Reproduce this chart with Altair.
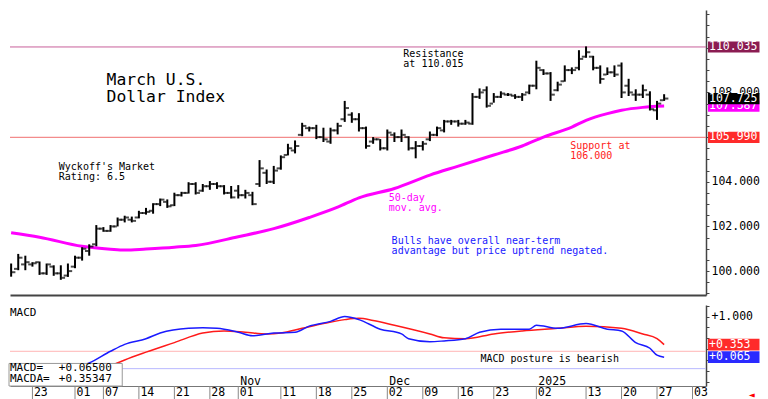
import altair as alt
import pandas as pd

# ---------------- data ----------------
HOLIDAYS = ["2024-12-25", "2025-01-01"]
trading_days = [d.strftime("%Y-%m-%d") for d in pd.bdate_range("2024-09-18", "2025-02-07")
                if d.strftime("%Y-%m-%d") not in HOLIDAYS]
ANCHOR = trading_days.index("2024-09-23")
day_index = {d: k - ANCHOR for k, d in enumerate(trading_days)}

bar_dates = trading_days[: trading_days.index("2025-01-28") + 1]
highs = [100.34, 100.77, 100.69, 100.40, 100.43, 100.34, 100.26, 100.26, 100.34, 100.69,
         101.07, 101.20, 102.06, 101.97, 102.06, 102.40, 102.48, 102.44, 102.70, 102.83,
         103.04, 103.25, 103.21, 103.51, 103.55, 103.98, 103.98, 103.90, 104.03, 103.98,
         103.85, 103.81, 103.85, 103.64, 103.55, 104.97, 104.55, 104.71, 105.18, 105.70,
         105.85, 106.64, 106.47, 106.55, 106.42, 106.42, 106.64, 107.62, 107.11, 107.07,
         106.47, 106.00, 105.91, 106.34, 106.21, 106.34, 106.04, 105.82, 105.82, 106.25,
         106.47, 106.77, 106.77, 106.77, 106.77, 107.97, 108.18, 108.27, 107.97, 108.05,
         107.97, 107.92, 107.97, 108.35, 109.42, 109.04, 108.91, 108.48, 109.21, 109.12,
         109.89, 110.06, 109.64, 109.21, 109.12, 109.21, 109.34, 108.61, 108.14, 108.35,
         108.05, 107.62, 107.92]
lows = [99.75, 100.04, 100.04, 100.20, 99.83, 99.83, 99.79, 99.61, 99.74, 100.13,
        100.47, 100.69, 101.11, 101.76, 101.76, 102.00, 102.18, 102.18, 102.36, 102.53,
        102.57, 102.91, 102.83, 102.91, 103.34, 103.47, 103.43, 103.55, 103.64, 103.68,
        103.43, 103.25, 103.25, 103.25, 102.95, 103.77, 103.90, 103.90, 104.54, 105.18,
        105.27, 106.04, 106.25, 105.91, 105.78, 105.70, 106.12, 106.68, 106.64, 106.25,
        105.48, 105.70, 105.40, 105.40, 105.78, 105.78, 105.40, 105.05, 105.40, 105.82,
        106.04, 106.21, 106.55, 106.47, 106.55, 106.55, 107.71, 107.32, 107.54, 107.75,
        107.84, 107.71, 107.62, 107.92, 108.14, 108.78, 107.62, 108.05, 108.48, 108.82,
        108.99, 109.55, 108.99, 108.39, 108.78, 108.69, 107.75, 107.84, 107.62, 107.75,
        107.19, 106.77, 107.62]
opens = [100.10, 100.10, 100.30, 100.30, 100.40, 99.90, 100.20, 99.90, 99.80, 100.20,
         100.60, 100.90, 101.20, 101.90, 101.80, 102.00, 102.30, 102.30, 102.40, 102.60,
         102.70, 103.00, 103.10, 102.95, 103.40, 103.50, 103.90, 103.60, 103.80, 103.90,
         103.80, 103.50, 103.60, 103.40, 103.40, 103.90, 104.40, 104.00, 104.60, 105.20,
         105.40, 106.10, 106.40, 106.40, 106.00, 105.80, 106.30, 106.80, 107.00, 106.80,
         106.40, 105.80, 105.90, 105.50, 106.10, 106.00, 106.00, 105.50, 105.60, 105.90,
         106.10, 106.30, 106.70, 106.70, 106.60, 106.60, 107.80, 108.10, 107.50, 107.80,
         107.90, 107.85, 107.80, 108.00, 108.30, 109.00, 108.85, 108.10, 108.50, 109.00,
         109.10, 109.60, 109.60, 109.10, 108.80, 108.90, 109.20, 108.30, 107.90, 107.90,
         107.90, 107.20, 107.65]
closes = [99.95, 100.60, 100.40, 100.35, 99.90, 100.30, 99.90, 99.70, 100.00, 100.60,
          101.00, 101.10, 101.90, 101.80, 102.00, 102.30, 102.40, 102.25, 102.60, 102.65,
          103.00, 103.20, 102.90, 103.40, 103.50, 103.90, 103.50, 103.80, 103.90, 103.80,
          103.50, 103.30, 103.40, 103.50, 103.00, 104.60, 104.00, 104.50, 105.10, 105.50,
          105.60, 106.50, 106.40, 106.00, 105.90, 106.30, 106.50, 107.30, 106.80, 106.40,
          105.60, 105.90, 105.50, 106.20, 106.00, 106.10, 105.50, 105.60, 105.70, 106.10,
          106.40, 106.70, 106.70, 106.60, 106.65, 107.80, 108.00, 107.40, 107.80, 107.95,
          107.90, 107.80, 107.90, 108.30, 109.10, 108.85, 107.90, 108.35, 109.00, 109.00,
          109.50, 109.80, 109.10, 108.60, 108.90, 108.80, 108.00, 108.00, 107.90, 108.10,
          107.25, 107.50, 107.725]

ma_dates = ["2024-09-18", "2024-09-24", "2024-10-02", "2024-10-08", "2024-10-10", "2024-10-15",
            "2024-10-21", "2024-10-24", "2024-11-01", "2024-11-08", "2024-11-15", "2024-11-21",
            "2024-11-26", "2024-12-03", "2024-12-10", "2024-12-16", "2024-12-23", "2024-12-30",
            "2025-01-03", "2025-01-09", "2025-01-13", "2025-01-16", "2025-01-20", "2025-01-23",
            "2025-01-28"]
ma_values = [101.72, 101.52, 101.11, 100.98, 100.94, 100.99, 101.07, 101.15, 101.54, 101.90,
             102.40, 102.86, 103.28, 103.70, 104.30, 104.70, 105.20, 105.60, 106.00, 106.45,
             106.75, 107.05, 107.20, 107.33, 107.387]

macd_dates = ["2024-09-18", "2024-09-26", "2024-10-01", "2024-10-03", "2024-10-08", "2024-10-10",
              "2024-10-15", "2024-10-17", "2024-10-23", "2024-10-25", "2024-10-29", "2024-11-01",
              "2024-11-05", "2024-11-08", "2024-11-13", "2024-11-15", "2024-11-20", "2024-11-22",
              "2024-11-26", "2024-11-29", "2024-12-04", "2024-12-05", "2024-12-10", "2024-12-12",
              "2024-12-17", "2024-12-19", "2024-12-24", "2024-12-31", "2025-01-02", "2025-01-07",
              "2025-01-13", "2025-01-16", "2025-01-20", "2025-01-22", "2025-01-24", "2025-01-27",
              "2025-01-28"]
macd_values = [-0.40, -0.30, -0.18, -0.07, 0.20, 0.36, 0.49, 0.62, 0.73, 0.74, 0.73, 0.64,
               0.56, 0.62, 0.64, 0.78, 0.89, 1.00, 0.93, 0.71, 0.60, 0.49, 0.42, 0.44,
               0.49, 0.64, 0.71, 0.71, 0.80, 0.73, 0.84, 0.71, 0.67, 0.40, 0.27, 0.11, 0.065]

macda_dates = ["2024-09-18", "2024-09-30", "2024-10-07", "2024-10-08", "2024-10-10", "2024-10-15",
               "2024-10-21", "2024-10-25", "2024-10-30", "2024-11-04", "2024-11-07", "2024-11-11",
               "2024-11-14", "2024-11-19", "2024-11-22", "2024-11-26", "2024-11-28", "2024-12-03",
               "2024-12-10", "2024-12-12", "2024-12-17", "2024-12-23", "2024-12-30", "2025-01-07",
               "2025-01-13", "2025-01-20", "2025-01-23", "2025-01-27", "2025-01-28"]
macda_values = [-0.55, -0.40, -0.22, -0.14, 0.00, 0.18, 0.40, 0.62, 0.67, 0.64, 0.60, 0.62,
                0.73, 0.84, 0.93, 0.96, 0.91, 0.80, 0.60, 0.51, 0.49, 0.60, 0.67, 0.73,
                0.78, 0.73, 0.60, 0.49, 0.353]

resistance_level = 110.035
support_level = 105.990
last_close = 107.725
last_ma = 107.387
macd_last = 0.065
macda_last = 0.353
macd_bands = [0.2, -0.2]

tick_dates = ["2024-09-23", "2024-10-01", "2024-10-07", "2024-10-14", "2024-10-21", "2024-10-28",
              "2024-11-01", "2024-11-11", "2024-11-18", "2024-11-25", "2024-12-02", "2024-12-09",
              "2024-12-16", "2024-12-23", "2025-01-02", "2025-01-13", "2025-01-20", "2025-01-27",
              "2025-02-03"]
tick_labels = [d[-2:] for d in tick_dates]
month_dates = ["2024-11-01", "2024-12-02", "2025-01-02"]
month_labels = ["Nov", "Dec", "2025"]

# ---------------- layout ----------------
SX, SY = 0.976, 0.958
W, H1, H2 = 696, 285, 81
MONO = "DejaVu Sans Mono"
xscale = alt.Scale(domain=[-3.16, 94.9], nice=False, zero=False)
pscale = alt.Scale(domain=[98.93, 111.69], nice=False, zero=False)
mscale = alt.Scale(domain=[-0.6, 1.267], nice=False, zero=False)

p_xaxis = alt.Axis(orient="bottom", labels=False, ticks=False, domain=True, domainColor="#444444",
                   domainWidth=2, grid=False, title=None)
m_xaxis = alt.Axis(orient="bottom", labels=False, ticks=False, domain=True, domainColor="#777777",
                   domainWidth=1, grid=False, title=None)
p_yaxis = alt.Axis(orient="right", values=[99 + 0.5 * k for k in range(26)],
                   labelExpr="(datum.value % 2 == 0 && datum.value != 106 && datum.value != 110) ? format(datum.value, '.3f') : ''",
                   tickSize=3, tickColor="#444444", domainColor="#444444", domainWidth=1.5,
                   labelFont=MONO, labelFontSize=11.5, labelColor="black", labelPadding=2,
                   labelOverlap=False, grid=False, title=None)
m_yaxis = alt.Axis(orient="right", values=[-0.5, -0.25, 0, 0.25, 0.5, 0.75, 1.0, 1.25],
                   labelExpr="datum.value == 1 ? '+1.000' : ''",
                   tickSize=3, tickColor="#444444", domainColor="#444444", domainWidth=1.5,
                   labelFont=MONO, labelFontSize=11.5, labelColor="black", labelPadding=2,
                   labelOverlap=False, grid=False, title=None)

X = lambda f: alt.X(f, type="quantitative", scale=xscale, axis=p_xaxis)
XM = lambda f: alt.X(f, type="quantitative", scale=xscale, axis=m_xaxis)
YP = lambda f: alt.Y(f, type="quantitative", scale=pscale, axis=p_yaxis)
YM = lambda f: alt.Y(f, type="quantitative", scale=mscale, axis=m_yaxis)

bars = pd.DataFrame({"i": [day_index[d] for d in bar_dates], "high": highs, "low": lows,
                     "open": opens, "close": closes})
ma = pd.DataFrame({"i": [day_index[d] for d in ma_dates], "v": ma_values})
levels = pd.DataFrame({"v": [resistance_level, support_level], "c": ["#c8609a", "#f07070"]})


def note(text, rx, ry, size, color, top=0):
    return alt.Chart(pd.DataFrame({"t": [text]})).mark_text(
        align="left", baseline="middle", font=MONO, fontSize=size, color=color
    ).encode(x=alt.value(rx * SX), y=alt.value((ry - top) * SY), text="t:N")


def value_box(val, bg, half, yenc, fmt):
    df = pd.DataFrame({"lo": [val - half], "hi": [val + half], "v": [val], "t": [fmt(val)]})
    rect = alt.Chart(df).mark_rect(color=bg).encode(
        x=alt.value(W + 2), x2=alt.value(W + 53.5), y=yenc("lo"), y2=alt.Y2("hi"))
    txt = alt.Chart(df).mark_text(align="left", baseline="middle", font=MONO, fontSize=11.5,
                                  color="white").encode(x=alt.value(W + 3), y=yenc("v"), text="t:N")
    return [rect, txt]


price_layers = [
    alt.Chart(levels).mark_rule(strokeWidth=1).encode(y=YP("v"), color=alt.Color("c:N", scale=None)),
    alt.Chart(ma).mark_line(color="#ff00ff", strokeWidth=3, interpolate="monotone", clip=True)
    .encode(x=X("i"), y=YP("v")),
    alt.Chart(bars).mark_rule(color="black", strokeWidth=2, clip=True)
    .encode(x=X("i"), y=YP("low"), y2=alt.Y2("high")),
    alt.Chart(bars).mark_tick(orient="horizontal", color="black", size=3.5, thickness=2,
                              xOffset=-2.5, clip=True).encode(x=X("i"), y=YP("open")),
    alt.Chart(bars).mark_tick(orient="horizontal", color="black", size=3.5, thickness=2,
                              xOffset=2.5, clip=True).encode(x=X("i"), y=YP("close")),
    note("March U.S.", 99, 73.5, 16.4, "black"),
    note("Dollar Index", 99, 91, 16.4, "black"),
    note("Wyckoff's Market", 50, 163.5, 10, "black"),
    note("Rating: 6.5", 50, 174.5, 10, "black"),
    note("Resistance", 403, 46, 10, "black"),
    note("at 110.015", 403, 56, 10, "black"),
    note("Support at", 574, 142, 10, "#ff2020"),
    note("106.000", 574, 152.5, 10, "#ff2020"),
    note("50-day", 388, 196, 10, "#ff00ff"),
    note("mov. avg.", 388, 207, 10, "#ff00ff"),
    note("Bulls have overall near-term", 391, 241.5, 10, "#2020ff"),
    note("advantage but price uptrend negated.", 391, 252, 10, "#2020ff"),
]
fmt3 = lambda v: f"{v:.3f}"
price_layers += value_box(resistance_level, "#8b1c52", 0.25, YP, fmt3)
price_layers += value_box(support_level, "#ff2a2a", 0.25, YP, fmt3)
price_layers += value_box(last_ma, "#ff00ff", 0.25, YP, fmt3)
price_layers += value_box(last_close, "#000000", 0.25, YP, fmt3)

price = alt.layer(*price_layers).properties(width=W, height=H1)

macd_df = pd.DataFrame({"i": [day_index[d] for d in macd_dates], "v": macd_values})
macda_df = pd.DataFrame({"i": [day_index[d] for d in macda_dates], "v": macda_values})
bands = pd.DataFrame({"v": macd_bands, "c": ["#ffb4b4", "#b8b8ff"]})
ticks = pd.DataFrame({"i": [day_index[d] for d in tick_dates], "t": tick_labels})
months = pd.DataFrame({"i": [day_index[d] for d in month_dates], "t": month_labels})

fmts = lambda v: f"+{v:.3f}"
macd_layers = [
    alt.Chart(bands).mark_rule(strokeWidth=1).encode(y=YM("v"), color=alt.Color("c:N", scale=None)),
    alt.Chart(macda_df).mark_line(color="#ff1a1a", strokeWidth=1.5, interpolate="monotone", clip=True)
    .encode(x=XM("i"), y=YM("v")),
    alt.Chart(macd_df).mark_line(color="#1a1aff", strokeWidth=1.5, interpolate="monotone", clip=True)
    .encode(x=XM("i"), y=YM("v")),
    alt.Chart(pd.DataFrame({"a": [0]})).mark_rect(fill="white", stroke="#999999", strokeWidth=1)
    .encode(x=alt.value(-1), x2=alt.value(115 * SX), y=alt.value((359 - 298) * SY), y2=alt.value(H2)),
    note("MACD", 0, 306.5, 11, "black", 298),
    note("MACD=", 0, 364, 11, "black", 298),
    note("+0.06500", 50, 364, 11, "black", 298),
    note("MACDA=", 0, 375.5, 11, "black", 298),
    note("+0.35347", 50, 375.5, 11, "black", 298),
    note("MACD posture is bearish", 482, 354, 10, "black", 298),
    alt.Chart(months).mark_text(align="left", baseline="middle", font=MONO, fontSize=11.5,
                                color="black", dx=2)
    .encode(x=XM("i"), y=alt.value((378 - 298) * SY), text="t:N"),
    alt.Chart(ticks).mark_rule(color="#888888", strokeWidth=1)
    .encode(x=XM("i"), y=alt.value(H2), y2=alt.value(H2 + 14.4)),
    alt.Chart(ticks).mark_text(align="left", baseline="middle", font=MONO, fontSize=11.5,
                               color="black", dx=1.5)
    .encode(x=XM("i"), y=alt.value(H2 + 7.2), text="t:N"),
    note("◄", 757, 392, 10, "#ff0000", 298),
]
macd_layers += value_box(macda_last, "#ff2a2a", 0.135, YM, fmts)
macd_layers += value_box(macd_last, "#2a2aff", 0.135, YM, fmts)

macd = alt.layer(*macd_layers).properties(width=W, height=H2)

chart = (
    alt.vconcat(price, macd, spacing=0)
    .resolve_scale(x="independent", y="independent")
    .properties(padding=0, background="white")
    .configure_view(strokeWidth=0)
)

chart.save("out.html", embed_options={"renderer": "svg", "actions": False})
